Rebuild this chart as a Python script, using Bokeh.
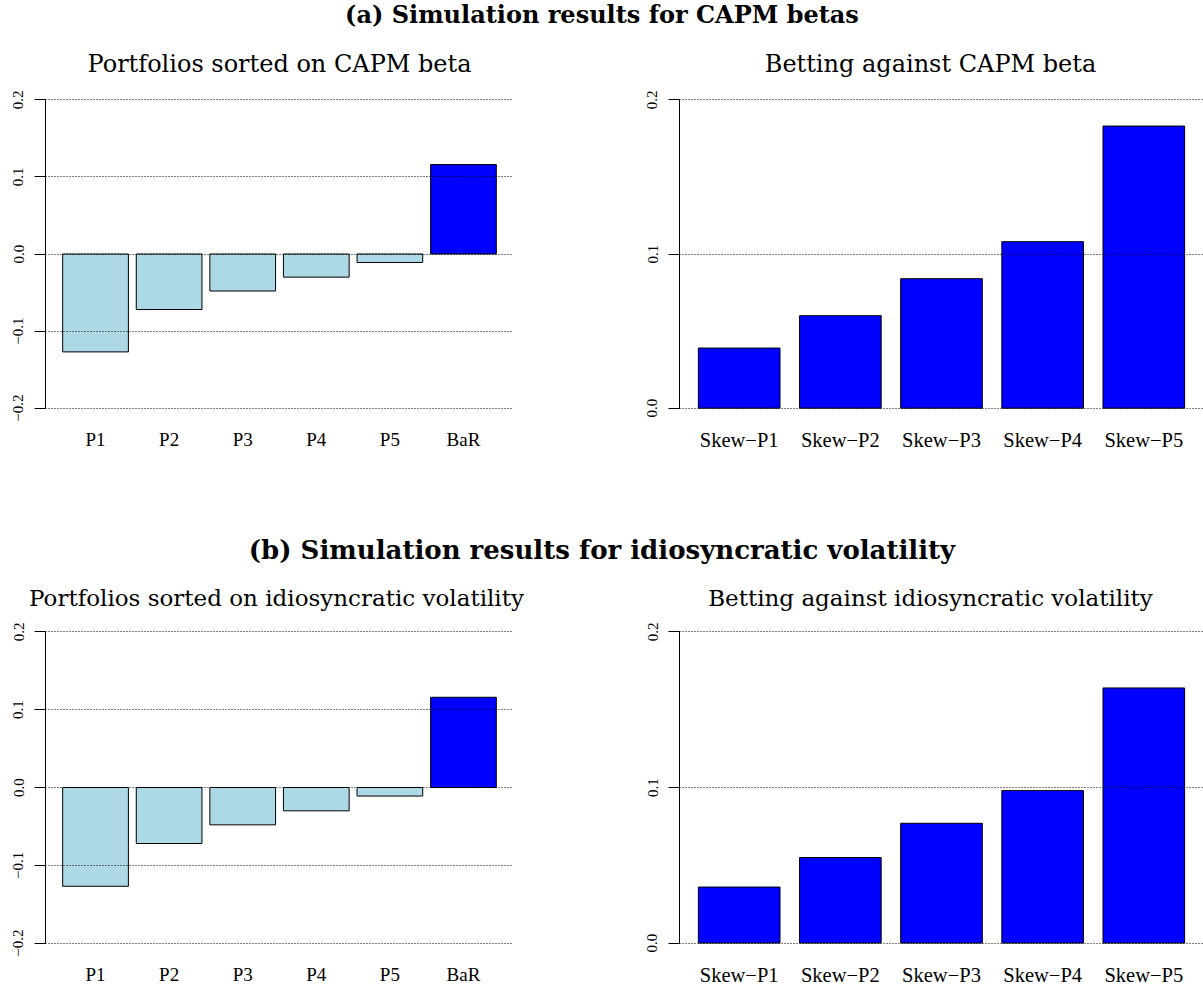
from bokeh.plotting import figure
from bokeh.layouts import column, row
from bokeh.models import FactorRange, Range1d, FixedTicker
from bokeh.core.properties import value
from bokeh.embed import file_html
from bokeh.resources import INLINE

# ---------------- data ----------------
title_a = "(a) Simulation results for CAPM betas"
title_b = "(b) Simulation results for idiosyncratic volatility"
sub_a_left = "Portfolios sorted on CAPM beta"
sub_a_right = "Betting against CAPM beta"
sub_b_left = "Portfolios sorted on idiosyncratic volatility"
sub_b_right = "Betting against idiosyncratic volatility"

port_cats = ["P1", "P2", "P3", "P4", "P5", "BaR"]
skew_cats = ["Skew\u2212P1", "Skew\u2212P2", "Skew\u2212P3", "Skew\u2212P4", "Skew\u2212P5"]

capm_port = [-0.127, -0.072, -0.048, -0.030, -0.011, 0.116]
capm_bet = [0.039, 0.060, 0.084, 0.108, 0.183]
ivol_port = [-0.127, -0.072, -0.048, -0.030, -0.011, 0.116]
ivol_bet = [0.036, 0.055, 0.077, 0.098, 0.164]

left_ticks = [-0.2, -0.1, 0.0, 0.1, 0.2]
left_tick_labels = ["\u22120.2", "\u22120.1", "0.0", "0.1", "0.2"]
right_ticks = [0.0, 0.1, 0.2]
right_tick_labels = ["0.0", "0.1", "0.2"]

# ---------------- styles ----------------
port_colors = ["lightblue"] * 5 + ["blue"]
skew_colors = ["blue"] * 5
SERIF = "Liberation Serif"
TITLE_FONT = "DejaVu Serif"
W = 1203


def header(h, title, title_y, title_size, sub_y, sub_size, subs):
    p = figure(width=W, height=h, x_range=Range1d(0, W), y_range=Range1d(h, 0),
               x_axis_type=None, y_axis_type=None, toolbar_location=None,
               output_backend="svg", min_border=0, outline_line_color=None)
    p.text(x=[W / 2], y=[title_y], text=[title], text_font=value(TITLE_FONT),
           text_font_style="bold", text_font_size=title_size, text_align="center",
           text_baseline="alphabetic", text_color="black")
    p.text(x=[s[0] for s in subs], y=[sub_y] * len(subs), text=[s[1] for s in subs],
           text_font=value(TITLE_FONT), text_font_size=sub_size, text_align="center",
           text_baseline="alphabetic", text_color="black")
    return p


def bar_fig(cats, vals, colors, width, height, yr, ticks, labels, bounds,
            pad, bw, mbl, mbr, mbt, mbb, xlab_size):
    p = figure(x_range=FactorRange(factors=cats, range_padding=pad,
                                   range_padding_units="absolute"),
               y_range=Range1d(*yr), width=width, height=height,
               toolbar_location=None, output_backend="svg",
               min_border_left=mbl, min_border_right=mbr,
               min_border_top=mbt, min_border_bottom=mbb,
               outline_line_color=None)
    p.vbar(x=cats, top=vals, bottom=0, width=bw, fill_color=colors,
           line_color="black", line_width=1)
    # y axis
    yax = p.yaxis[0]
    yax.ticker = FixedTicker(ticks=ticks)
    yax.major_label_overrides = {t: l for t, l in zip(ticks, labels)}
    yax.bounds = bounds
    yax.major_label_orientation = "vertical"
    yax.major_label_text_font = SERIF
    yax.major_label_text_font_size = "15px"
    yax.major_label_text_color = "black"
    yax.major_tick_out = 11
    yax.major_tick_in = 0
    yax.minor_tick_line_color = None
    yax.major_label_standoff = 11
    yax.axis_line_color = "black"
    yax.major_tick_line_color = "black"
    # x axis
    xax = p.xaxis[0]
    xax.axis_line_color = None
    xax.major_tick_line_color = None
    xax.major_tick_out = 0
    xax.major_tick_in = 0
    xax.minor_tick_line_color = None
    xax.major_label_text_font = SERIF
    xax.major_label_text_font_size = xlab_size
    xax.major_label_text_color = "black"
    xax.major_label_standoff = 8
    # grid
    p.xgrid.visible = False
    p.ygrid.grid_line_color = "black"
    p.ygrid.grid_line_dash = "1 2"
    p.ygrid.grid_line_width = 1
    p.ygrid.level = "overlay"
    return p


LEFT_YR = (-0.216, 0.216)
RIGHT_YR = (-0.008, 0.208)

ha = header(84, title_a, 14, "24px", 63, "24px",
            [(279, sub_a_left), (930, sub_a_right)])
fa1 = bar_fig(port_cats, capm_port, port_colors, 600, 450, LEFT_YR, left_ticks,
              left_tick_labels, (-0.2, 0.2), 0.18, 0.893, 45, 87, 0, 114, "19px")
fa2 = bar_fig(skew_cats, capm_bet, skew_colors, 603, 450, RIGHT_YR, right_ticks,
              right_tick_labels, (0.0, 0.2), 0.09, 0.807, 79, 0, 3, 111, "20.5px")

hb = header(85, title_b, 15, "26px", 63, "23px",
            [(276, sub_b_left), (930, sub_b_right)])
fb1 = bar_fig(port_cats, ivol_port, port_colors, 600, 372, LEFT_YR, left_ticks,
              left_tick_labels, (-0.2, 0.2), 0.18, 0.893, 45, 87, 0, 36, "19px")
fb2 = bar_fig(skew_cats, ivol_bet, skew_colors, 603, 372, RIGHT_YR, right_ticks,
              right_tick_labels, (0.0, 0.2), 0.09, 0.807, 79, 0, 0, 36, "20.5px")

layout = column(ha, row(fa1, fa2), hb, row(fb1, fb2))

open("out.html", "w").write(file_html(layout, INLINE))
